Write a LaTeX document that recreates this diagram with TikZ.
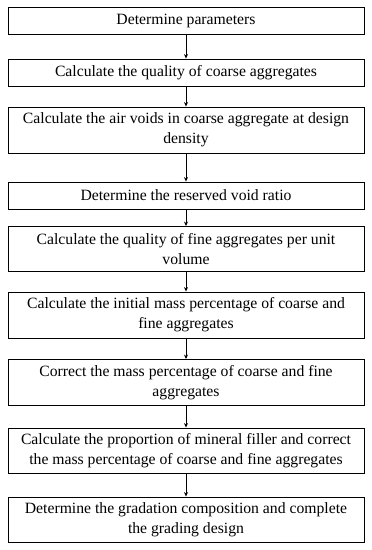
\documentclass[tikz,border=0pt]{standalone}
\usepackage{fontspec}
\setmainfont{Liberation Serif}
\usetikzlibrary{arrows.meta}
\begin{document}
\begin{tikzpicture}[x=1pt,y=-1pt,
  stepbox/.style={draw, line width=0.9pt, minimum width=356pt, align=center, inner sep=0pt, font=\fontsize{15.7}{20}\selectfont},
  flow/.style={line width=0.8pt, -{Stealth[length=4.5pt,width=4pt]}}]
\useasboundingbox (0,0) rectangle (372,550);
\node[stepbox, minimum height=27pt] (b1) at (186,21) {Determine parameters};
\node[stepbox, minimum height=27pt] (b2) at (186,72.5) {Calculate the quality of coarse aggregates};
\node[stepbox, minimum height=46pt] (b3) at (186,130) {Calculate the air voids in coarse aggregate at design\\density};
\node[stepbox, minimum height=27pt] (b4) at (186,195.5) {Determine the reserved void ratio};
\node[stepbox, minimum height=45pt] (b5) at (186,249) {Calculate the quality of fine aggregates per unit\\volume};
\node[stepbox, minimum height=46pt] (b6) at (186,315) {Calculate the initial mass percentage of coarse and\\fine aggregates};
\node[stepbox, minimum height=46pt] (b7) at (186,382.5) {Correct the mass percentage of coarse and fine\\aggregates};
\node[stepbox, minimum height=45pt] (b8) at (186,450.5) {Calculate the proportion of mineral filler and correct\\the mass percentage of coarse and fine aggregates};
\node[stepbox, minimum height=45pt] (b9) at (186,519.5) {Determine the gradation composition and complete\\the grading design};
\foreach \a/\b in {b1/b2,b2/b3,b3/b4,b4/b5,b5/b6,b6/b7,b7/b8,b8/b9}
  \draw[flow] (\a.south) -- (\b.north);
\end{tikzpicture}
\end{document}
